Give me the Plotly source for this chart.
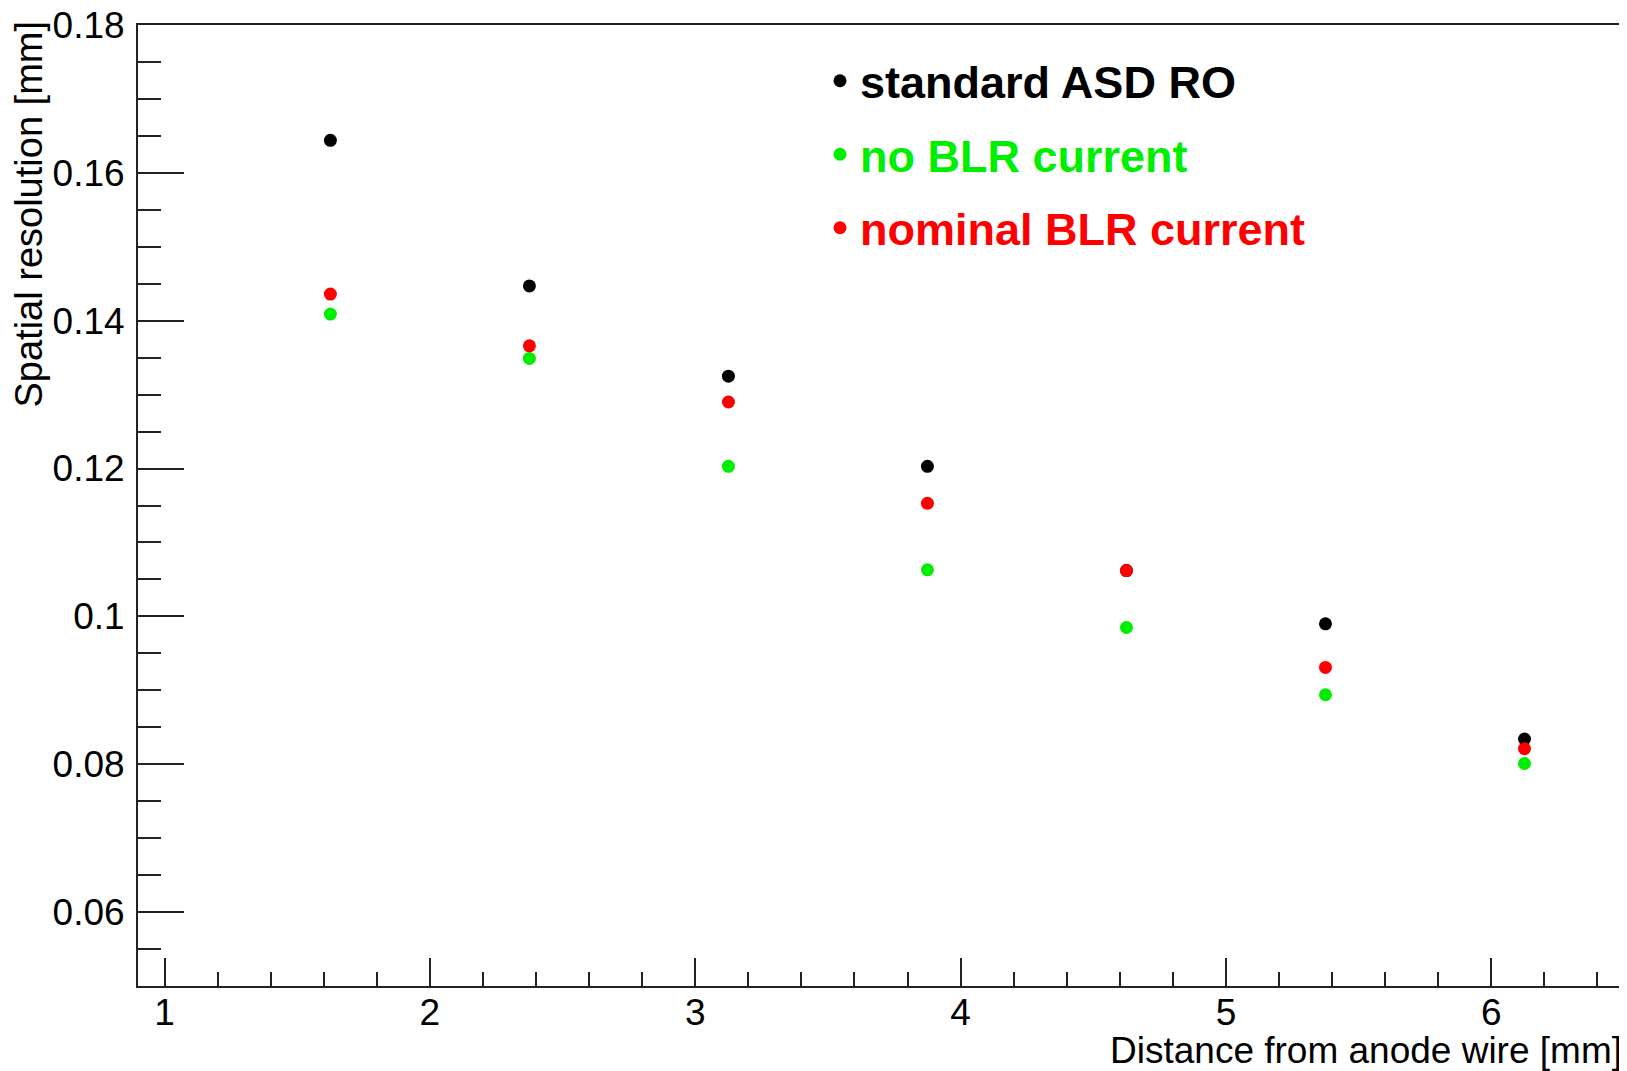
import plotly.graph_objects as go

distance = [1.625, 2.375, 3.125, 3.875, 4.625, 5.375, 6.125]
standard_asd_ro = [0.1644, 0.1447, 0.1325, 0.1203, 0.1062, 0.0990, 0.0834]
no_blr_current = [0.1409, 0.1349, 0.1203, 0.1063, 0.0985, 0.0894, 0.0801]
nominal_blr_current = [0.1436, 0.1366, 0.1290, 0.1153, 0.1062, 0.0931, 0.0821]

y_ticks = [0.06, 0.08, 0.1, 0.12, 0.14, 0.16, 0.18]
y_tick_labels = ["0.06", "0.08", "0.1", "0.12", "0.14", "0.16", "0.18"]

series = [
    ("standard ASD RO", standard_asd_ro, "#000000"),
    ("no BLR current", no_blr_current, "#00ee00"),
    ("nominal BLR current", nominal_blr_current, "#ff0000"),
]

FONT = "Liberation Sans, Arial, Helvetica, sans-serif"

fig = go.Figure()
for i, (name, vals, col) in enumerate(series):
    fig.add_trace(go.Scatter(
        x=distance, y=vals, mode="markers", name=f"<span style='color:{col}'>{name}</span>",
        legendgroup=f"g{i}",
        marker=dict(color=col, size=13, line=dict(width=0)),
    ))

# page body has an 8px default margin, so the figure is made 8px smaller
W, H = 1619, 1063
L, R, T, B = 130, 3, 17, 85
ph = H - T - B
pw = W - L - R

fig.update_layout(
    width=W, height=H,
    margin=dict(l=L, r=R, t=T, b=B, pad=0, autoexpand=False),
    paper_bgcolor="white", plot_bgcolor="white",
    font=dict(family=FONT, size=37, color="black"),
    showlegend=True,
    legend=dict(
        x=(812 - L) / pw, y=(H - B - 37) / ph,
        xanchor="left", yanchor="top",
        bgcolor="rgba(0,0,0,0)", borderwidth=0,
        font=dict(family=FONT, size=45, weight="bold", color="black"),
        tracegroupgap=12,
    ),
    xaxis=dict(
        range=[0.9, 6.5], showgrid=False, zeroline=False, automargin=False,
        showline=True, linecolor="#222", linewidth=2, mirror=True,
        ticks="inside", ticklen=28, tickwidth=2, tickcolor="#222",
        tick0=1, dtick=1, tickfont=dict(size=37, family=FONT),
        ticklabelstandoff=-7, ticklabeloverflow="allow",
        minor=dict(ticks="inside", ticklen=14, tickwidth=2, tickcolor="#222", dtick=0.2, tick0=1),
    ),
    yaxis=dict(
        range=[0.05, 0.180001], showgrid=False, zeroline=False, automargin=False,
        showline=True, linecolor="#222", linewidth=2, mirror=True,
        ticks="inside", ticklen=46, tickwidth=2, tickcolor="#222",
        tickfont=dict(size=37, family=FONT),
        tickvals=y_ticks, ticktext=y_tick_labels,
        ticklabelstandoff=4, ticklabeloverflow="allow",
        minor=dict(ticks="inside", ticklen=23, tickwidth=2, tickcolor="#222", dtick=0.005, tick0=0.05),
    ),
    annotations=[
        dict(text="Distance from anode wire [mm]", xref="paper", yref="paper",
             x=1, y=0, xanchor="right", yanchor="top", yshift=-42, showarrow=False,
             font=dict(size=37, family=FONT, color="black")),
        dict(text="Spatial resolution [mm]", xref="paper", yref="paper",
             x=0, y=1, xanchor="left", yanchor="top", xshift=-L - 3, yshift=6,
             textangle=-90, showarrow=False,
             font=dict(size=38, family=FONT, color="black")),
    ],
)

fig.write_html("out.html")
